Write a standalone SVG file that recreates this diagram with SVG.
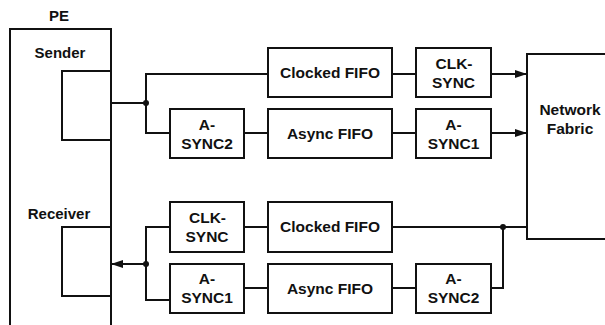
<svg xmlns="http://www.w3.org/2000/svg" width="605" height="325" viewBox="0 0 605 325">
<style>
.box{fill:#fff;stroke:#111;stroke-width:2}
.ln{fill:none;stroke:#111;stroke-width:2}
text{font-family:"Liberation Sans",Arial,sans-serif;font-weight:bold;font-size:15.5px;fill:#111;text-anchor:middle}
</style>
<defs>
<marker id="ah" markerWidth="12" markerHeight="8" refX="12" refY="4" orient="auto" markerUnits="userSpaceOnUse">
<path d="M0,0 L12,4 L0,8 Z" fill="#111"/>
</marker>
</defs>
<rect width="605" height="325" fill="#fff"/>
<g id="pe">
<path class="ln" d="M10,335 V29 H111 V335"/>
<text x="59" y="21" style="font-size:15px">PE</text>
<text x="60" y="57.5" style="font-size:15px">Sender</text>
<path class="ln" d="M111,71 H62 V140 H111"/>
<text x="59" y="219" style="font-size:15px">Receiver</text>
<path class="ln" d="M111,227 H62 V296 H111"/>
</g>
<g id="network">
<path class="ln" d="M612,54 H527 V239 H612"/>
<text x="570" y="115">Network</text>
<text x="570" y="133.5">Fabric</text>
</g>
<g id="tx_clocked_fifo"><rect class="box" x="268" y="48" width="124" height="49"/><text x="330" y="78">Clocked FIFO</text></g>
<g id="tx_clk_sync"><rect class="box" x="416" y="48" width="75" height="49"/><text x="454" y="69">CLK-</text><text x="453.5" y="88">SYNC</text></g>
<g id="tx_async2"><rect class="box" x="170" y="109" width="74" height="49"/><text x="207" y="130">A-</text><text x="207" y="148.5">SYNC2</text></g>
<g id="tx_async_fifo"><rect class="box" x="268" y="109" width="124" height="49"/><text x="330" y="139">Async FIFO</text></g>
<g id="tx_async1"><rect class="box" x="416" y="109" width="75" height="49"/><text x="453.5" y="130">A-</text><text x="453.5" y="148.5">SYNC1</text></g>
<g id="rx_clk_sync"><rect class="box" x="170" y="202" width="74" height="50"/><text x="207.5" y="223">CLK-</text><text x="207" y="242">SYNC</text></g>
<g id="rx_clocked_fifo"><rect class="box" x="268" y="202" width="124" height="50"/><text x="330" y="232">Clocked FIFO</text></g>
<g id="rx_async1"><rect class="box" x="170" y="264" width="74" height="49"/><text x="207" y="284">A-</text><text x="207" y="303">SYNC1</text></g>
<g id="rx_async_fifo"><rect class="box" x="268" y="264" width="124" height="49"/><text x="330" y="294">Async FIFO</text></g>
<g id="rx_async2"><rect class="box" x="416" y="264" width="75" height="49"/><text x="453.5" y="284">A-</text><text x="453.5" y="303">SYNC2</text></g>
<g id="connectors">
<path class="ln" d="M111,103 H146"/>
<path class="ln" d="M268,74 H146 V133 H170"/>
<circle cx="146" cy="103" r="3" fill="#111"/>
<path class="ln" d="M244,133 H268"/>
<path class="ln" d="M392,74 H416"/>
<path class="ln" d="M392,133 H416"/>
<path class="ln" d="M491,74 H527" marker-end="url(#ah)"/>
<path class="ln" d="M491,133 H527" marker-end="url(#ah)"/>
<path class="ln" d="M392,227 H527"/>
<path class="ln" d="M491,288 H503 V227"/>
<circle cx="503" cy="227" r="3" fill="#111"/>
<path class="ln" d="M392,288 H416"/>
<path class="ln" d="M244,288 H268"/>
<path class="ln" d="M244,227 H268"/>
<path class="ln" d="M170,227 H146 V300 H170"/>
<path class="ln" d="M146,264 H111" marker-end="url(#ah)"/>
<circle cx="146" cy="264" r="3" fill="#111"/>
</g>
</svg>
